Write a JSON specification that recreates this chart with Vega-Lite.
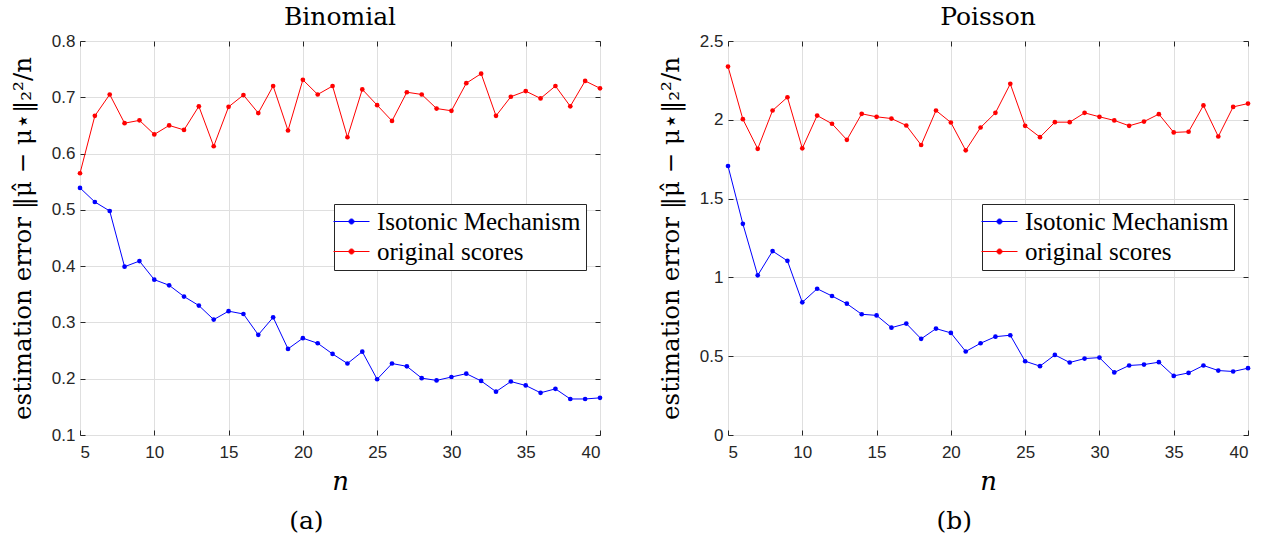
{
 "$schema": "https://vega.github.io/schema/vega-lite/v6.json",
 "background": "white",
 "padding": {"left": 9, "top": 4, "right": 10, "bottom": 0},
 "datasets": {
  "binom": [
   {"n":5,"Isotonic Mechanism":0.539,"original scores":0.565},
   {"n":6,"Isotonic Mechanism":0.514,"original scores":0.667},
   {"n":7,"Isotonic Mechanism":0.498,"original scores":0.705},
   {"n":8,"Isotonic Mechanism":0.399,"original scores":0.654},
   {"n":9,"Isotonic Mechanism":0.409,"original scores":0.659},
   {"n":10,"Isotonic Mechanism":0.376,"original scores":0.634},
   {"n":11,"Isotonic Mechanism":0.366,"original scores":0.650},
   {"n":12,"Isotonic Mechanism":0.346,"original scores":0.642},
   {"n":13,"Isotonic Mechanism":0.330,"original scores":0.684},
   {"n":14,"Isotonic Mechanism":0.305,"original scores":0.613},
   {"n":15,"Isotonic Mechanism":0.320,"original scores":0.683},
   {"n":16,"Isotonic Mechanism":0.315,"original scores":0.704},
   {"n":17,"Isotonic Mechanism":0.278,"original scores":0.672},
   {"n":18,"Isotonic Mechanism":0.309,"original scores":0.720},
   {"n":19,"Isotonic Mechanism":0.253,"original scores":0.641},
   {"n":20,"Isotonic Mechanism":0.272,"original scores":0.731},
   {"n":21,"Isotonic Mechanism":0.263,"original scores":0.705},
   {"n":22,"Isotonic Mechanism":0.244,"original scores":0.720},
   {"n":23,"Isotonic Mechanism":0.227,"original scores":0.629},
   {"n":24,"Isotonic Mechanism":0.248,"original scores":0.714},
   {"n":25,"Isotonic Mechanism":0.199,"original scores":0.686},
   {"n":26,"Isotonic Mechanism":0.227,"original scores":0.658},
   {"n":27,"Isotonic Mechanism":0.222,"original scores":0.709},
   {"n":28,"Isotonic Mechanism":0.201,"original scores":0.705},
   {"n":29,"Isotonic Mechanism":0.197,"original scores":0.680},
   {"n":30,"Isotonic Mechanism":0.203,"original scores":0.676},
   {"n":31,"Isotonic Mechanism":0.209,"original scores":0.725},
   {"n":32,"Isotonic Mechanism":0.196,"original scores":0.742},
   {"n":33,"Isotonic Mechanism":0.177,"original scores":0.667},
   {"n":34,"Isotonic Mechanism":0.195,"original scores":0.701},
   {"n":35,"Isotonic Mechanism":0.188,"original scores":0.711},
   {"n":36,"Isotonic Mechanism":0.175,"original scores":0.698},
   {"n":37,"Isotonic Mechanism":0.182,"original scores":0.720},
   {"n":38,"Isotonic Mechanism":0.164,"original scores":0.684},
   {"n":39,"Isotonic Mechanism":0.164,"original scores":0.729},
   {"n":40,"Isotonic Mechanism":0.166,"original scores":0.716}
  ],
  "pois": [
   {"n":5,"Isotonic Mechanism":1.707,"original scores":2.338},
   {"n":6,"Isotonic Mechanism":1.340,"original scores":2.004},
   {"n":7,"Isotonic Mechanism":1.013,"original scores":1.816},
   {"n":8,"Isotonic Mechanism":1.167,"original scores":2.059},
   {"n":9,"Isotonic Mechanism":1.105,"original scores":2.143},
   {"n":10,"Isotonic Mechanism":0.842,"original scores":1.819},
   {"n":11,"Isotonic Mechanism":0.928,"original scores":2.027},
   {"n":12,"Isotonic Mechanism":0.882,"original scores":1.975},
   {"n":13,"Isotonic Mechanism":0.833,"original scores":1.873},
   {"n":14,"Isotonic Mechanism":0.766,"original scores":2.038},
   {"n":15,"Isotonic Mechanism":0.759,"original scores":2.019},
   {"n":16,"Isotonic Mechanism":0.681,"original scores":2.008},
   {"n":17,"Isotonic Mechanism":0.707,"original scores":1.964},
   {"n":18,"Isotonic Mechanism":0.610,"original scores":1.840},
   {"n":19,"Isotonic Mechanism":0.675,"original scores":2.059},
   {"n":20,"Isotonic Mechanism":0.648,"original scores":1.983},
   {"n":21,"Isotonic Mechanism":0.530,"original scores":1.806},
   {"n":22,"Isotonic Mechanism":0.582,"original scores":1.951},
   {"n":23,"Isotonic Mechanism":0.624,"original scores":2.044},
   {"n":24,"Isotonic Mechanism":0.633,"original scores":2.228},
   {"n":25,"Isotonic Mechanism":0.468,"original scores":1.962},
   {"n":26,"Isotonic Mechanism":0.437,"original scores":1.890},
   {"n":27,"Isotonic Mechanism":0.508,"original scores":1.985},
   {"n":28,"Isotonic Mechanism":0.460,"original scores":1.985},
   {"n":29,"Isotonic Mechanism":0.485,"original scores":2.044},
   {"n":30,"Isotonic Mechanism":0.491,"original scores":2.019},
   {"n":31,"Isotonic Mechanism":0.397,"original scores":1.996},
   {"n":32,"Isotonic Mechanism":0.441,"original scores":1.962},
   {"n":33,"Isotonic Mechanism":0.447,"original scores":1.989},
   {"n":34,"Isotonic Mechanism":0.462,"original scores":2.036},
   {"n":35,"Isotonic Mechanism":0.375,"original scores":1.920},
   {"n":36,"Isotonic Mechanism":0.394,"original scores":1.924},
   {"n":37,"Isotonic Mechanism":0.441,"original scores":2.091},
   {"n":38,"Isotonic Mechanism":0.409,"original scores":1.894},
   {"n":39,"Isotonic Mechanism":0.403,"original scores":2.082},
   {"n":40,"Isotonic Mechanism":0.424,"original scores":2.103}
  ]
 },
 "spacing": 54,
 "resolve": {"scale": {"color": "independent"}, "legend": {"color": "independent"}},
 "hconcat": [
  {
   "title": {"text": "(a)", "orient": "bottom", "offset": 14},
   "vconcat": [
    {
     "width": 520,
     "height": 394,
     "title": {"text": "Binomial"},
     "data": {"name": "binom"},
     "transform": [{"fold": ["Isotonic Mechanism", "original scores"], "as": ["series", "error"]}],
     "resolve": {"axis": {"x": "independent", "y": "independent"}},
     "layer": [
      {
       "mark": {"type": "line", "strokeWidth": 1},
       "encoding": {
        "x": {"field": "n", "type": "quantitative", "scale": {"domain": [5, 40], "nice": false},
              "axis": {"values": [5,10,15,20,25,30,35,40], "title": "n"}},
        "y": {"field": "error", "type": "quantitative", "scale": {"domain": [0.1, 0.8], "nice": false, "zero": false},
              "axis": {"values": [0.1,0.2,0.3,0.4,0.5,0.6,0.7,0.8], "format": ".1f", "title": "estimation error ‖μ̂ − μ⋆‖₂²/n"}},
        "color": {"field": "series", "type": "nominal",
                  "scale": {"domain": ["Isotonic Mechanism", "original scores"], "range": ["#0000ff", "#ff0000"]},
                  "legend": {"legendX": 254, "legendY": 163}}
       }
      },
      {
       "mark": {"type": "point", "filled": true, "size": 22, "opacity": 1},
       "encoding": {
        "x": {"field": "n", "type": "quantitative",
              "axis": {"orient": "top", "values": [5,10,15,20,25,30,35,40], "labels": false, "grid": false, "title": null}},
        "y": {"field": "error", "type": "quantitative",
              "axis": {"orient": "right", "values": [0.1,0.2,0.3,0.4,0.5,0.6,0.7,0.8], "labels": false, "grid": false, "title": null}},
        "color": {"field": "series", "type": "nominal"}
       }
      }
     ]
    }
   ]
  },
  {
   "title": {"text": "(b)", "orient": "bottom", "offset": 14},
   "vconcat": [
    {
     "width": 520,
     "height": 394,
     "title": {"text": "Poisson"},
     "data": {"name": "pois"},
     "transform": [{"fold": ["Isotonic Mechanism", "original scores"], "as": ["series", "error"]}],
     "resolve": {"axis": {"x": "independent", "y": "independent"}},
     "layer": [
      {
       "mark": {"type": "line", "strokeWidth": 1},
       "encoding": {
        "x": {"field": "n", "type": "quantitative", "scale": {"domain": [5, 40], "nice": false},
              "axis": {"values": [5,10,15,20,25,30,35,40], "title": "n"}},
        "y": {"field": "error", "type": "quantitative", "scale": {"domain": [0, 2.5], "nice": false},
              "axis": {"values": [0,0.5,1,1.5,2,2.5], "format": "~g", "title": "estimation error ‖μ̂ − μ⋆‖₂²/n"}},
        "color": {"field": "series", "type": "nominal",
                  "scale": {"domain": ["Isotonic Mechanism", "original scores"], "range": ["#0000ff", "#ff0000"]},
                  "legend": {"legendX": 254, "legendY": 163}}
       }
      },
      {
       "mark": {"type": "point", "filled": true, "size": 22, "opacity": 1},
       "encoding": {
        "x": {"field": "n", "type": "quantitative",
              "axis": {"orient": "top", "values": [5,10,15,20,25,30,35,40], "labels": false, "grid": false, "title": null}},
        "y": {"field": "error", "type": "quantitative",
              "axis": {"orient": "right", "values": [0,0.5,1,1.5,2,2.5], "labels": false, "grid": false, "title": null}},
        "color": {"field": "series", "type": "nominal"}
       }
      }
     ]
    }
   ]
  }
 ],
 "config": {
  "view": {"stroke": "#262626", "strokeWidth": 1},
  "axis": {
   "domain": false,
   "grid": true,
   "gridColor": "#dfdfdf",
   "gridWidth": 1,
   "ticks": true,
   "tickColor": "#262626",
   "tickSize": -5,
   "tickWidth": 1,
   "labelFont": "Liberation Sans",
   "labelFontSize": 17,
   "labelColor": "#262626",
   "titleFont": "DejaVu Serif",
   "titleFontWeight": "normal",
   "titleColor": "black"
  },
  "axisX": {"titleFontSize": 26, "titleFontStyle": "italic", "titlePadding": 8, "labelPadding": 14},
  "axisY": {"titleFontSize": 24.5, "titlePadding": 16, "labelPadding": 10},
  "title": {"font": "DejaVu Serif", "fontSize": 25, "fontWeight": "normal", "color": "black", "offset": 2, "anchor": "middle"},
  "legend": {
   "orient": "none",
   "title": null,
   "strokeColor": "#262626",
   "fillColor": "white",
   "padding": 5,
   "labelFont": "Liberation Serif",
   "labelFontSize": 25,
   "labelColor": "black",
   "labelLimit": 500,
   "labelOffset": 13,
   "rowPadding": 4,
   "symbolType": "M-2,0L2,0M-0.28,0A0.28,0.28,0,1,1,0.28,0A0.28,0.28,0,1,1,-0.28,0",
   "symbolSize": 324,
   "symbolStrokeWidth": 1
  }
 }
}
